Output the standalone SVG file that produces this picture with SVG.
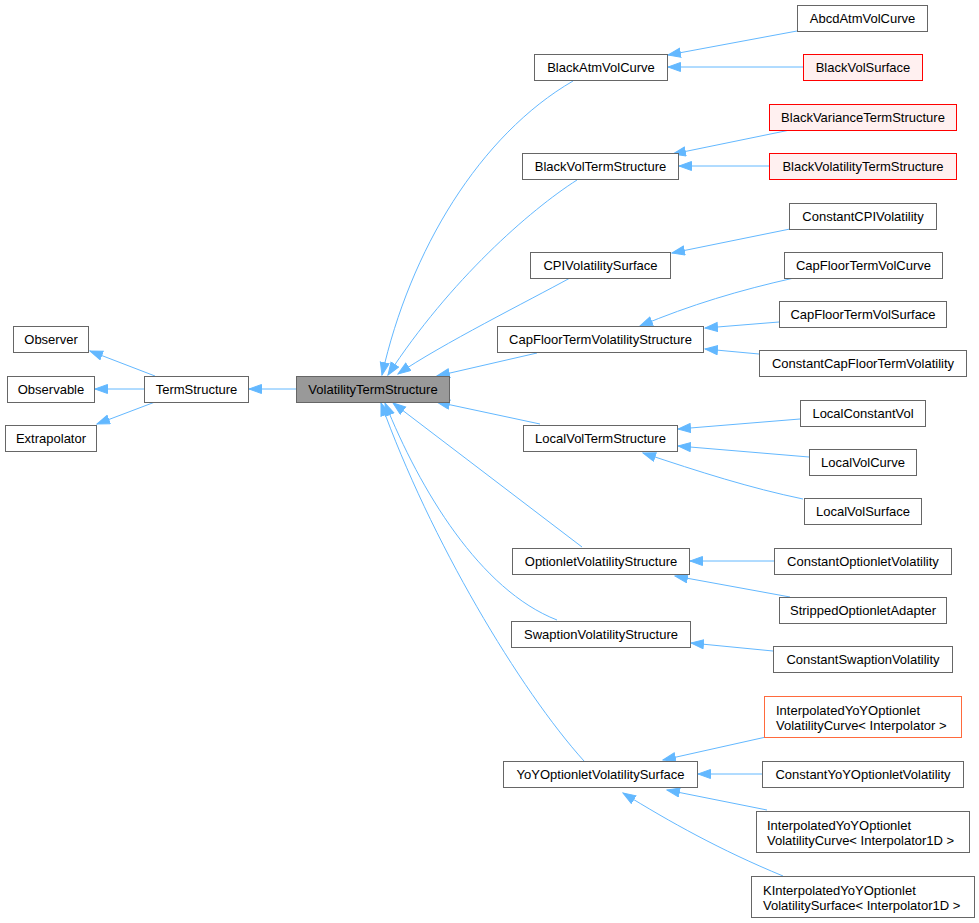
<svg xmlns="http://www.w3.org/2000/svg" width="979" height="923" viewBox="0 0 979 923">
<style>
.n rect{fill:#fff;stroke:#666;stroke-width:1}
.n.r rect{fill:#fff0f0;stroke:#ff0000}
.n.o rect{fill:#fff;stroke:#ff6a3d}
.n.m rect{fill:#999;stroke:#666}
text{font-family:"Liberation Sans",Arial,Helvetica,sans-serif;font-size:13px;fill:#000}
.c{text-anchor:middle}
#edges path{fill:none;stroke:#63b8ff;stroke-width:1;marker-end:url(#a)}
</style>
<defs>
<marker id="a" markerUnits="userSpaceOnUse" markerWidth="14" markerHeight="11" refX="13" refY="5" orient="auto">
<path d="M0.5,0.5 L13,5 L0.5,9.5 z" fill="#63b8ff" stroke="#63b8ff"/>
</marker>
</defs>
<rect width="979" height="923" fill="#fff"/>
<g id="edges">
<path d="M155,376 L90,351"/>
<path d="M144,389 L95,389"/>
<path d="M155,402 L97,424"/>
<path d="M296,389 L249,389"/>
<path d="M573,81 C480,135 410,250 382,375"/>
<path d="M577,180 C530,210 450,280 388,375"/>
<path d="M570,278 C530,300 440,345 398,374"/>
<path d="M537,353 L437,376"/>
<path d="M540,424 L437,402"/>
<path d="M582,547 L393,403"/>
<path d="M557,620 C480,590 420,490 385,403"/>
<path d="M584,761 C520,690 430,540 381,403"/>
<path d="M797,31 L668,55"/>
<path d="M803,67 L668,67"/>
<path d="M790,130 L673,154"/>
<path d="M769,166 L679,166"/>
<path d="M790,229 L672,253"/>
<path d="M794,278 C740,290 690,305 640,326"/>
<path d="M779,322 L705,328"/>
<path d="M759,354 L705,349"/>
<path d="M800,419 L678,429"/>
<path d="M809,457 L678,446"/>
<path d="M803,499 C750,488 700,472 643,453"/>
<path d="M774,561 L690,561"/>
<path d="M790,597 L675,576"/>
<path d="M773,651 L691,643"/>
<path d="M766,737 L663,760"/>
<path d="M762,774 L698,774"/>
<path d="M767,810 L667,790"/>
<path d="M783,876 C720,850 670,822 623,793"/>
</g>
<g id="Observer" class="n"><rect x="13.5" y="326.5" width="75" height="26"/><text class="c" x="51" y="344">Observer</text></g>
<g id="Observable" class="n"><rect x="7.5" y="376.5" width="87" height="26"/><text class="c" x="51" y="394">Observable</text></g>
<g id="Extrapolator" class="n"><rect x="5.5" y="425.5" width="91" height="26"/><text class="c" x="51" y="443">Extrapolator</text></g>
<g id="TermStructure" class="n"><rect x="144.5" y="376.5" width="104" height="26"/><text class="c" x="196.5" y="394">TermStructure</text></g>
<g id="VolatilityTermStructure" class="n m"><rect x="296.5" y="376.5" width="153" height="26"/><text class="c" x="373" y="394">VolatilityTermStructure</text></g>
<g id="BlackAtmVolCurve" class="n"><rect x="534.5" y="54.5" width="133" height="26"/><text class="c" x="601" y="72">BlackAtmVolCurve</text></g>
<g id="BlackVolTermStructure" class="n"><rect x="522.5" y="153.5" width="156" height="26"/><text class="c" x="600.5" y="171">BlackVolTermStructure</text></g>
<g id="CPIVolatilitySurface" class="n"><rect x="530.5" y="252.5" width="140" height="26"/><text class="c" x="600.5" y="270">CPIVolatilitySurface</text></g>
<g id="CapFloorTermVolatilityStructure" class="n"><rect x="497.5" y="326.5" width="206" height="26"/><text class="c" x="600.5" y="344">CapFloorTermVolatilityStructure</text></g>
<g id="LocalVolTermStructure" class="n"><rect x="523.5" y="425.5" width="154" height="26"/><text class="c" x="600.5" y="443">LocalVolTermStructure</text></g>
<g id="OptionletVolatilityStructure" class="n"><rect x="512.5" y="548.5" width="177" height="26"/><text class="c" x="601" y="566">OptionletVolatilityStructure</text></g>
<g id="SwaptionVolatilityStructure" class="n"><rect x="511.5" y="621.5" width="179" height="26"/><text class="c" x="601" y="639">SwaptionVolatilityStructure</text></g>
<g id="YoYOptionletVolatilitySurface" class="n"><rect x="503.5" y="761.5" width="194" height="26"/><text class="c" x="600.5" y="779">YoYOptionletVolatilitySurface</text></g>
<g id="AbcdAtmVolCurve" class="n"><rect x="797.5" y="5.5" width="130" height="26"/><text class="c" x="862.5" y="23">AbcdAtmVolCurve</text></g>
<g id="BlackVolSurface" class="n r"><rect x="803.5" y="54.5" width="119" height="26"/><text class="c" x="863" y="72">BlackVolSurface</text></g>
<g id="BlackVarianceTermStructure" class="n r"><rect x="769.5" y="104.5" width="187" height="26"/><text class="c" x="863" y="122">BlackVarianceTermStructure</text></g>
<g id="BlackVolatilityTermStructure" class="n r"><rect x="769.5" y="153.5" width="187" height="26"/><text class="c" x="863" y="171">BlackVolatilityTermStructure</text></g>
<g id="ConstantCPIVolatility" class="n"><rect x="789.5" y="203.5" width="147" height="26"/><text class="c" x="863" y="221">ConstantCPIVolatility</text></g>
<g id="CapFloorTermVolCurve" class="n"><rect x="784.5" y="252.5" width="158" height="26"/><text class="c" x="863.5" y="270">CapFloorTermVolCurve</text></g>
<g id="CapFloorTermVolSurface" class="n"><rect x="779.5" y="301.5" width="167" height="26"/><text class="c" x="863" y="319">CapFloorTermVolSurface</text></g>
<g id="ConstantCapFloorTermVolatility" class="n"><rect x="759.5" y="350.5" width="207" height="26"/><text class="c" x="863" y="368">ConstantCapFloorTermVolatility</text></g>
<g id="LocalConstantVol" class="n"><rect x="800.5" y="400.5" width="125" height="26"/><text class="c" x="863" y="418">LocalConstantVol</text></g>
<g id="LocalVolCurve" class="n"><rect x="809.5" y="449.5" width="107" height="26"/><text class="c" x="863" y="467">LocalVolCurve</text></g>
<g id="LocalVolSurface" class="n"><rect x="804.5" y="498.5" width="117" height="26"/><text class="c" x="863" y="516">LocalVolSurface</text></g>
<g id="ConstantOptionletVolatility" class="n"><rect x="774.5" y="548.5" width="177" height="26"/><text class="c" x="863" y="566">ConstantOptionletVolatility</text></g>
<g id="StrippedOptionletAdapter" class="n"><rect x="779.5" y="597.5" width="167" height="26"/><text class="c" x="863" y="615">StrippedOptionletAdapter</text></g>
<g id="ConstantSwaptionVolatility" class="n"><rect x="773.5" y="646.5" width="179" height="26"/><text class="c" x="863" y="664">ConstantSwaptionVolatility</text></g>
<g id="InterpolatedYoYOptionletVolatilityCurveInterpolator" class="n o"><rect x="764.5" y="696.5" width="197" height="41"/><text x="776" y="714.5">InterpolatedYoYOptionlet</text><text x="776" y="729.5">VolatilityCurve&lt; Interpolator &gt;</text></g>
<g id="ConstantYoYOptionletVolatility" class="n"><rect x="762.5" y="761.5" width="201" height="26"/><text class="c" x="863" y="779">ConstantYoYOptionletVolatility</text></g>
<g id="InterpolatedYoYOptionletVolatilityCurveInterpolator1D" class="n"><rect x="756.5" y="811.5" width="213" height="41"/><text x="767" y="829.5">InterpolatedYoYOptionlet</text><text x="767" y="845">VolatilityCurve&lt; Interpolator1D &gt;</text></g>
<g id="KInterpolatedYoYOptionletVolatilitySurfaceInterpolator1D" class="n"><rect x="751.5" y="876.5" width="223" height="41"/><text x="763" y="894.5">KInterpolatedYoYOptionlet</text><text x="763" y="909.5">VolatilitySurface&lt; Interpolator1D &gt;</text></g>
</svg>
